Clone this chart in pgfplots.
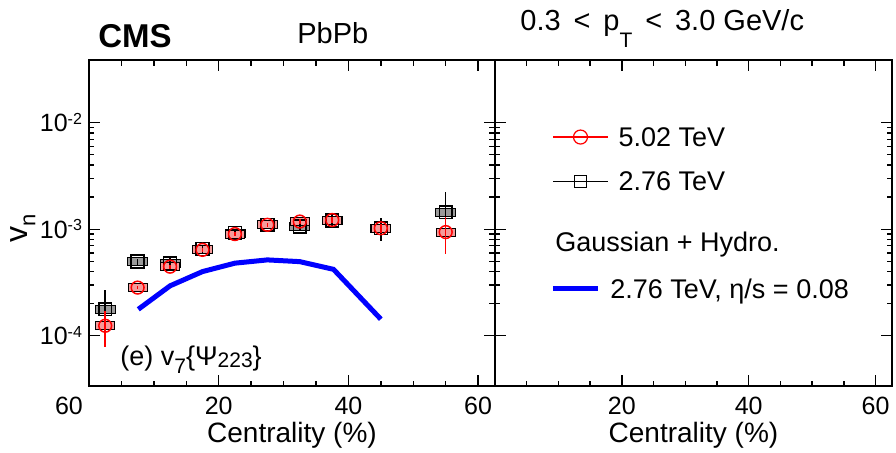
\documentclass[border=0pt]{standalone}
\usepackage{pgfplots}
\pgfplotsset{compat=1.18}
\usepackage{pgfplotstable}
\usepackage{fontspec}
\setmainfont{Liberation Sans}
\definecolor{pinkbox}{RGB}{245,155,155}
\definecolor{greybox}{RGB}{155,155,155}
\newcommand\fs[1]{\fontsize{#1}{#1}\selectfont}
\newcommand\tp[1]{10\raisebox{3.8pt}{\fs{8}-#1}}

\pgfplotstableread{
c v e
2.5 1.24e-4 0.45e-4
7.5 2.83e-4 0.1e-4
12.5 4.45e-4 0.2e-4
17.5 6.4e-4 0.3e-4
22.5 9.0e-4 0.4e-4
27.5 1.10e-3 0.05e-3
32.5 1.18e-3 0.06e-3
37.5 1.22e-3 0.08e-3
45 1.02e-3 0.1e-3
55 9.4e-4 3.6e-4
}\redtab
\pgfplotstableread{
c v e
2.5 1.77e-4 0.9e-4
7.5 4.96e-4 0.3e-4
12.5 4.80e-4 0.7e-4
17.5 6.5e-4 0.6e-4
22.5 9.2e-4 0.6e-4
27.5 1.10e-3 0.05e-3
32.5 1.06e-3 0.1e-3
37.5 1.21e-3 0.15e-3
45 1.02e-3 0.25e-3
55 1.44e-3 0.8e-3
}\blacktab
\pgfplotstableread{
c v
7.6 1.77e-4
12.5 2.94e-4
17.5 4.0e-4
22.5 4.8e-4
27.5 5.15e-4
32.5 4.96e-4
37.7 4.2e-4
45 1.43e-4
}\hydrotab

\begin{document}
\begin{tikzpicture}
\path[use as bounding box] (-44.5pt,-33pt) rectangle (403.5pt,193pt);
\begin{axis}[name=leftax, width=203pt, anchor=south west, at={(0pt,0pt)},
  scale only axis, height=163pt, xmin=0, xmax=62.6,
  ymode=log, ymin=3.37e-5, ymax=3.88e-2, clip mode=individual,
  tick align=inside, xtick={0,20,40,60}, minor x tick num=3,
  ytick={1e-4,1e-3,1e-2},
  major tick length=5.5pt, minor tick length=2.75pt,
  axis line style={line width=0.9pt},
  every tick/.append style={black, line width=0.7pt},
  tick label style={font=\fs{12.5}},
  xticklabel style={yshift=-2pt},
  xlabel={Centrality (\%)},
  xlabel style={font=\fs{14}, yshift=3pt},
  xticklabels={\makebox[0pt]{\hspace*{-20pt}60},20,40,60},
  yticklabel pos=left,
  yticklabels={\tp{4},\tp{3},\tp{2}},
]
\addplot[only marks, mark=square*, mark size=2pt, mark options={xscale=2.5, fill=greybox, draw=none}] table[x=c, y=v] {\blacktab};
\addplot[only marks, mark=square*, mark size=2pt, mark options={xscale=2.4, fill=pinkbox, draw=none}] table[x=c, y=v] {\redtab};
\addplot[blue, line width=2.5pt] table[x=c, y=v] {\hydrotab};
\addplot[black, line width=0.75pt, only marks, mark=square, mark size=3.2pt,
  error bars/.cd, y dir=both, y explicit, error mark=none, error bar style={line width=0.75pt, black}]
  table[x=c, y=v, y error=e] {\blacktab};
\addplot[red, line width=0.75pt, only marks, mark=o, mark size=3.2pt,
  error bars/.cd, y dir=both, y explicit, error mark=none, error bar style={line width=0.75pt, red}]
  table[x=c, y=v, y error=e] {\redtab};
\node[anchor=base west, font=\fs{16.5}\bfseries, inner sep=0pt, xshift=4.5pt, yshift=6.5pt] at (rel axis cs:0,1) {CMS};
\node[anchor=base west, font=\fs{14.5}, inner sep=0pt, xshift=104pt, yshift=8.5pt] at (rel axis cs:0,1) {PbPb};
\node[anchor=base west, font=\fs{13.5}, inner sep=0pt, xshift=15.5pt, yshift=10.5pt] at (rel axis cs:0,0)
  {(e) v\raisebox{-4pt}{\fs{10.5}7}\{Ψ\raisebox{-1pt}{\fs{10.5}223}\}};
\node[xshift=-33pt, rotate=90, font=\fs{16}, inner sep=0pt] at (rel axis cs:0,0.485) {v\raisebox{-4pt}{\fs{11}n}};
\end{axis}
\begin{axis}[name=rightax, width=198.5pt, anchor=south west, at={(leftax.south east)},
  scale only axis, height=163pt, xmin=0, xmax=62.6,
  ymode=log, ymin=3.37e-5, ymax=3.88e-2, clip mode=individual,
  tick align=inside, xtick={0,20,40,60}, minor x tick num=3,
  ytick={1e-4,1e-3,1e-2},
  major tick length=5.5pt, minor tick length=2.75pt,
  axis line style={line width=0.9pt},
  every tick/.append style={black, line width=0.7pt},
  tick label style={font=\fs{12.5}},
  xticklabel style={yshift=-2pt},
  xlabel={Centrality (\%)},
  xlabel style={font=\fs{14}, yshift=3pt},
  xticklabels={,20,40,60},
  yticklabels={},
  legend cell align=left,
  legend style={at={(0.1436,0.80)}, anchor=north west, draw=none, fill=none, inner sep=0pt,
    font=\fs{13.5}, row sep=10.7pt, nodes={inner sep=1pt, text depth=0pt}},
]
\addlegendimage{red, line width=0.6pt, mark=o, mark size=3.5pt,
  legend image code/.code={\draw[mark repeat=2,mark phase=2] plot coordinates {(0pt,0pt) (13.75pt,0pt) (27.5pt,0pt)};}}
\addlegendentry{\hspace*{4pt}5.02 TeV}
\addlegendimage{black, line width=0.6pt, mark=square, mark size=3pt,
  legend image code/.code={\draw[mark repeat=2,mark phase=2] plot coordinates {(0pt,0pt) (13.75pt,0pt) (27.5pt,0pt)};}}
\addlegendentry{\hspace*{4pt}2.76 TeV}
\node[anchor=base west, font=\fs{14.5}, inner sep=0pt, xshift=12.5pt, yshift=15pt] at (rel axis cs:0,1)
  {0.3 \,<\, p\raisebox{-8.5pt}{\fs{10.5}T} \,<\, 3.0 GeV/c};
\end{axis}
\begin{axis}[width=198.5pt, anchor=south west, at={(rightax.south west)},
  scale only axis, height=163pt, hide axis, xmin=0, xmax=1, ymin=0, ymax=1,
  legend cell align=left,
  legend style={at={(0.1385,0.4785)}, anchor=north west, draw=none, fill=none, inner sep=0pt,
    font=\fs{13.5}, row sep=11.6pt, nodes={inner sep=1pt, text depth=0pt}},
]
\addlegendimage{empty legend}
\addlegendentry{\hspace*{-23.5pt}Gaussian + Hydro.}
\addlegendimage{blue, line width=2.5pt,
  legend image code/.code={\draw (0pt,0pt) -- (22.5pt,0pt);}}
\addlegendentry{\hspace*{4pt}2.76 TeV, η/s = 0.08}
\end{axis}
\end{tikzpicture}
\end{document}
